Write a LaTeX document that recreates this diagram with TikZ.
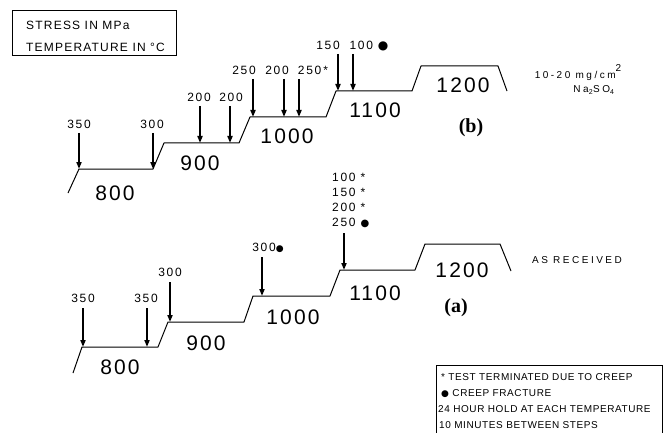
\documentclass[tikz,border=0pt]{standalone}
\usepackage{fontspec}
\setmainfont{Liberation Sans}
\newfontfamily\valfont[LetterSpace=14]{Liberation Sans}
\newfontfamily\notefont[LetterSpace=6]{Liberation Sans}
\newfontfamily\widefont[LetterSpace=25]{Liberation Sans}
\newfontfamily\tempfont[LetterSpace=10]{Liberation Sans}
\newfontfamily\panelfont{Liberation Serif}
\newfontfamily\symfont{DejaVu Sans}
\newcommand{\fracdot}[1][12]{{\symfont\fontsize{#1}{#1}\selectfont ●}}
\usetikzlibrary{arrows.meta,positioning}

\begin{document}
\begin{tikzpicture}[
  x=1pt, y=-1pt,
  every node/.style={inner sep=0pt},
  profile/.style={line width=1pt, line join=round},
  frame/.style={line width=0.7pt},
  stressarrow/.style={-{Triangle[length=7pt,width=5pt]}, line width=1.8pt,
                      shorten <=4.5pt},
  val/.style={font=\valfont\fontsize{12}{14}\selectfont, text height=8.6pt,
              text depth=0pt},
  temp/.style={font=\tempfont\fontsize{21}{24}\selectfont, text height=15pt,
               text depth=0pt},
  panel/.style={font=\panelfont\bfseries\fontsize{20}{24}\selectfont},
  note/.style={font=\notefont\fontsize{10}{12}\selectfont, anchor=west,
               text height=7.2pt, text depth=0pt},
  wide/.style={font=\widefont\fontsize{10}{12}\selectfont, text height=7.2pt,
               text depth=0pt},
  units/.style={font=\tempfont\fontsize{12}{14}\selectfont, anchor=west,
                text height=8.6pt, text depth=0pt},
]
  \useasboundingbox (0,0) rectangle (669,433);
  % Units box
  \node[draw, frame, anchor=north west, minimum width=164pt,
        minimum height=45pt] (unitbox) at (12,10) {};
  \node[units] (units1) at (26,25) {STRESS IN MPa};
  \node[units] (units2) at (26,47) {TEMPERATURE IN °C};
  % Temperature steps (b)
  \draw[profile] (68,193) -- (79,169) -- (153,169) -- (164,143) -- (239,143)
    -- (250,117) -- (326,117) -- (336,91) -- (412,91) -- (421,66) -- (498,66)
    -- (507,91);
  \foreach \t/\x/\y in {800/115/193, 900/200/163, 1000/287/136,
                        1100/375/110, 1200/463/85}
    \node[temp] (b\t) at (\x,\y) {\t};
  % Stress steps (b)
  \foreach \n/\ax/\ty/\lx/\ly/\txt in {
      b1/79/169/79/124/350, b2/153/169/152/124/300,
      b3/200/143/199/97/200, b4/230/143/231/97/200,
      b5/253/117/244/70/250, b6/284/117/277/70/200,
      b7/299/117/313/70/{250\,*},
      b8/338/91/328/45/150, b9/353/91/369/45/{100 \fracdot}} {
    \node[val] (\n) at (\lx,\ly) {\txt};
    \coordinate (\n-tip) at (\ax,\ty);
    \draw[stressarrow] (\n.south -| \n-tip) -- (\n-tip);
  }
  \node[panel] (panelb) at (471,128) {(b)};
  \node[wide] (salt1) at (578,75) {10-20 mg/cm\raisebox{7pt}{2}};
  \node[wide] (salt2) at (594,89)
    {Na\textsubscript{2}SO\textsubscript{4}};
  % Temperature steps (a)
  \draw[profile] (73,373) -- (82,347) -- (158,347) -- (168,322) -- (244,322)
    -- (253,296) -- (330,296) -- (340,270) -- (415,270) -- (425,244)
    -- (500,244) -- (511,271);
  \foreach \t/\x/\y in {800/120/367, 900/206/343, 1000/293/317,
                        1100/375/293, 1200/462/270}
    \node[temp] (a\t) at (\x,\y) {\t};
  % Stress steps (a)
  \foreach \n/\ax/\ty/\lx/\ly/\txt in {
      a1/83/347/83/298/350, a2/147/347/146/298/350,
      a3/170/322/170/272/300, a4/262/296/268/247/{300\fracdot[9]}} {
    \node[val] (\n) at (\lx,\ly) {\txt};
    \coordinate (\n-tip) at (\ax,\ty);
    \draw[stressarrow, shorten <=5.5pt] (\n.south -| \n-tip) -- (\n-tip);
  }
  \foreach \txt [count=\k] in {100 *, 150 *, 200 *, {250 \fracdot[10]}}
    \node[val, anchor=west] (a5-\k) at (332,162.5+15*\k) {\txt};
  \coordinate (a5-tip) at (344,270);
  \draw[stressarrow, shorten <=6pt] (a5-4.south -| a5-tip) -- (a5-tip);
  \node[panel] (panela) at (456,308) {(a)};
  \node[wide] (received) at (577,260) {AS RECEIVED};
  % Legend
  \draw[frame] (436,433) -- (436,365) -- (662,365) -- (662,433);
  \node[note] (leg1) at (441,377) {* TEST TERMINATED DUE TO CREEP};
  \node[note] (leg2) at (441,393) {\fracdot[9] CREEP FRACTURE};
  \node[note] (leg3) at (438,409) {24 HOUR HOLD AT EACH TEMPERATURE};
  \node[note] (leg4) at (439,425) {10 MINUTES BETWEEN STEPS};
\end{tikzpicture}
\end{document}
